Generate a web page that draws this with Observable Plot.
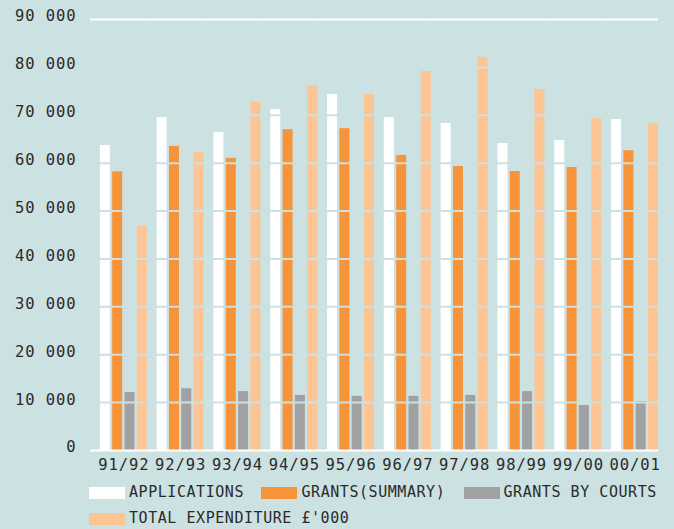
<!DOCTYPE html>
<html><head><meta charset="utf-8">
<script src="https://cdn.jsdelivr.net/npm/d3@7"></script>
<script src="https://cdn.jsdelivr.net/npm/@observablehq/plot@0.6"></script>
<style>
html,body{margin:0;padding:0;background:#cce1e1;}
#wrap{position:relative;width:674px;height:529px;overflow:hidden;background:#cce1e1;}
#chart{position:absolute;left:0;top:0;}
#chart svg text{font-family:"DejaVu Sans Mono",monospace;font-size:15.5px;letter-spacing:0.9px;fill:#2b2b2b;}
.sw{position:absolute;width:36px;height:12px;}
.lt{position:absolute;font-family:"DejaVu Sans Mono",monospace;font-size:15px;letter-spacing:0.55px;color:#2b2b2b;line-height:15px;white-space:nowrap;}
</style></head>
<body>
<div id="wrap"><div id="chart"></div><div id="legend"></div></div>
<script>
const years = ["91/92","92/93","93/94","94/95","95/96","96/97","97/98","98/99","99/00","00/01"];
const applications     = [63700, 69500, 66400, 71200, 74300, 69500, 68300, 64100, 64700, 69100];
const grantsSummary    = [58200, 63500, 61000, 67000, 67200, 61600, 59300, 58250, 59100, 62600];
const grantsCourts     = [12100, 12900, 12300, 11500, 11300, 11300, 11500, 12300,  9400, 10200];
const totalExpenditure = [46800, 62200, 72700, 76200, 74300, 79100, 82100, 75400, 69300, 68300];
const seriesNames = ["APPLICATIONS", "GRANTS(SUMMARY)", "GRANTS BY COURTS", "TOTAL EXPENDITURE £'000"];
const seriesColors = ["#ffffff", "#f7943a", "#a1a1a4", "#fdc594"];
const yTicks = [0, 10000, 20000, 30000, 40000, 50000, 60000, 70000, 80000, 90000];

const bg = "#cce1e1";
const seriesArrays = [applications, grantsSummary, grantsCourts, totalExpenditure];
const data = years.flatMap((yr, i) => seriesArrays.map((arr, j) => ({year: yr, series: seriesNames[j], value: arr[i]})));

const chart = Plot.plot({
  width: 674, height: 475,
  marginLeft: 90, marginRight: 16, marginTop: 19, marginBottom: 25,
  style: {background: "transparent", fontFamily: "DejaVu Sans Mono, monospace", fontSize: "15.5px", color: "#2b2b2b"},
  fx: {domain: years, padding: 0, round: false, label: null, axis: "bottom", tickSize: 0, tickPadding: 8},
  x: {domain: seriesNames, paddingInner: 0.187, paddingOuter: 0.4, align: 1, round: false, axis: null},
  y: {domain: [0, 90000], label: null, axis: null},
  color: {domain: seriesNames, range: seriesColors},
  marks: [
    Plot.barY(data, {fx: "year", x: "series", y: "value", fill: "series"}),
    Plot.ruleY(yTicks.filter(t => t > 0 && t < 90000), {stroke: bg, strokeWidth: 2}),
    Plot.ruleY([0, 90000], {stroke: "#ffffff", strokeWidth: 2}),
    Plot.axisY({ticks: yTicks, tickSize: 0, tickPadding: 14, label: null, dy: -3,
      tickFormat: d => d === 0 ? "0" : `${d / 1000} 000`})
  ]
});
document.getElementById("chart").appendChild(chart);
const fxg = chart.querySelector("g[aria-label='fx-axis tick label']");
if (fxg) fxg.setAttribute("transform", (fxg.getAttribute("transform") || "") + " translate(5,0)");

const legendPos = [[89, 486.5, 129], [261, 486.5, 301.5], [464, 486.5, 503.5], [89, 513.3, 129]];
const legend = document.getElementById("legend");
seriesNames.forEach((name, i) => {
  const [sx, sy, tx] = legendPos[i];
  const sw = document.createElement("div");
  sw.className = "sw";
  sw.style.left = sx + "px"; sw.style.top = sy + "px"; sw.style.background = seriesColors[i];
  legend.appendChild(sw);
  const t = document.createElement("div");
  t.className = "lt";
  t.style.left = tx + "px"; t.style.top = (sy - 2) + "px";
  t.textContent = name;
  legend.appendChild(t);
});
</script>
</body></html>
